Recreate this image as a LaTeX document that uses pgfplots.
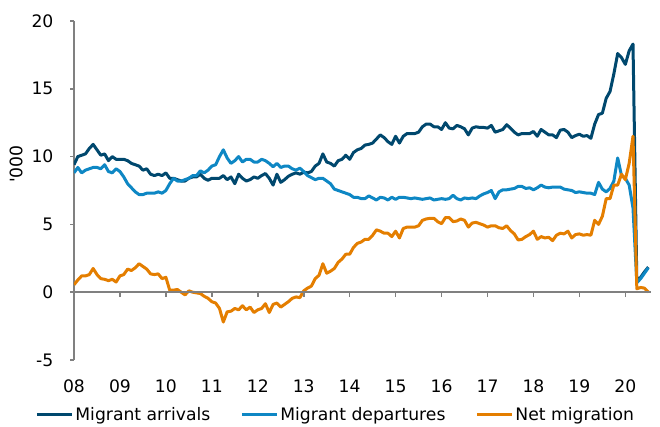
\documentclass[border=0pt]{standalone}
\usepackage{fontspec}
\setmainfont{DejaVu Sans}
\usepackage{pgfplots}
\usepackage{pgfplotstable}
\pgfplotsset{compat=1.18}

\definecolor{arrcol}{RGB}{0,72,110}
\definecolor{depcol}{RGB}{14,135,196}
\definecolor{netcol}{RGB}{228,126,0}
\definecolor{axisgray}{RGB}{128,128,128}

% monthly, m=0 is Jan 2008
\pgfplotstableread{
m arr dep net
0 9.4 8.8 0.55
1 10.0 9.2 0.9
2 10.1 8.8 1.2
3 10.2 9.0 1.2
4 10.6 9.1 1.3
5 10.9 9.2 1.75
6 10.5 9.2 1.3
7 10.1 9.1 1.0
8 10.2 9.4 0.95
9 9.7 8.9 0.85
10 10.0 8.8 0.95
11 9.8 9.1 0.75
12 9.8 8.9 1.2
13 9.8 8.5 1.3
14 9.7 8.0 1.7
15 9.5 7.7 1.6
16 9.4 7.4 1.8
17 9.3 7.2 2.1
18 9.0 7.2 1.9
19 9.1 7.3 1.7
20 8.7 7.3 1.35
21 8.6 7.3 1.3
22 8.7 7.4 1.35
23 8.6 7.3 1.0
24 8.8 7.5 1.1
25 8.4 8.0 0.15
26 8.4 8.4 0.15
27 8.3 8.2 0.2
28 8.2 8.2 0.0
29 8.2 8.3 -0.2
30 8.4 8.4 0.1
31 8.5 8.6 0.0
32 8.5 8.6 -0.05
33 8.7 8.95 -0.1
34 8.4 8.8 -0.3
35 8.25 9.0 -0.45
36 8.4 9.3 -0.7
37 8.4 9.4 -0.8
38 8.4 10.0 -1.2
39 8.6 10.5 -2.2
40 8.3 9.9 -1.45
41 8.5 9.5 -1.4
42 8.0 9.7 -1.2
43 8.7 10.0 -1.3
44 8.4 9.6 -1.0
45 8.2 9.8 -1.3
46 8.3 9.8 -1.1
47 8.5 9.6 -1.5
48 8.4 9.6 -1.3
49 8.6 9.8 -1.2
50 8.75 9.7 -0.85
51 8.4 9.5 -1.5
52 7.9 9.25 -0.9
53 8.7 9.5 -0.8
54 8.1 9.2 -1.1
55 8.3 9.3 -0.9
56 8.55 9.3 -0.7
57 8.7 9.1 -0.45
58 8.8 9.0 -0.35
59 8.7 9.15 -0.4
60 8.85 8.9 0.1
61 8.8 8.6 0.3
62 8.9 8.45 0.45
63 9.3 8.3 1.0
64 9.5 8.4 1.25
65 10.2 8.4 2.1
66 9.6 8.2 1.4
67 9.5 8.0 1.55
68 9.3 7.6 1.75
69 9.7 7.5 2.2
70 9.8 7.4 2.45
71 10.1 7.3 2.8
72 9.8 7.2 2.8
73 10.3 7.0 3.3
74 10.5 7.0 3.6
75 10.6 6.9 3.7
76 10.85 6.9 3.9
77 10.9 7.1 3.9
78 11.0 6.95 4.2
79 11.3 6.8 4.6
80 11.6 7.0 4.5
81 11.4 6.95 4.35
82 11.1 6.8 4.35
83 10.9 7.0 4.1
84 11.5 6.85 4.5
85 11.0 7.0 4.0
86 11.5 7.0 4.7
87 11.7 6.95 4.8
88 11.7 6.9 4.8
89 11.7 6.95 4.8
90 11.8 6.9 4.9
91 12.2 6.85 5.3
92 12.4 6.9 5.4
93 12.4 6.95 5.45
94 12.2 6.8 5.45
95 12.2 6.85 5.2
96 12.0 6.9 5.05
97 12.5 6.85 5.5
98 12.1 6.9 5.5
99 12.05 7.15 5.2
100 12.3 6.9 5.25
101 12.2 6.8 5.4
102 12.05 6.95 5.3
103 11.6 6.9 4.8
104 12.1 6.95 5.1
105 12.2 6.9 5.15
106 12.15 7.1 5.05
107 12.15 7.25 4.95
108 12.1 7.35 4.8
109 12.3 7.5 4.9
110 11.8 6.9 4.9
111 11.9 7.4 4.75
112 12.0 7.55 4.7
113 12.35 7.55 4.9
114 12.1 7.6 4.55
115 11.8 7.65 4.3
116 11.6 7.8 3.85
117 11.7 7.8 3.9
118 11.7 7.65 4.1
119 11.7 7.7 4.25
120 11.85 7.55 4.5
121 11.5 7.7 3.9
122 12.0 7.9 4.1
123 11.8 7.75 4.0
124 11.6 7.7 4.05
125 11.6 7.75 3.8
126 11.4 7.75 4.2
127 11.95 7.75 4.35
128 12.0 7.6 4.3
129 11.8 7.55 4.5
130 11.4 7.5 4.0
131 11.55 7.35 4.25
132 11.65 7.4 4.3
133 11.5 7.35 4.2
134 11.55 7.3 4.25
135 11.35 7.3 4.2
136 12.4 7.2 5.3
137 13.1 8.1 5.0
138 13.2 7.6 5.6
139 14.3 7.4 6.9
140 14.8 7.65 6.9
141 16.1 8.2 7.9
142 17.6 9.9 7.9
143 17.3 8.6 8.7
144 16.8 8.4 8.3
145 17.8 7.9 9.5
146 18.3 6.2 11.5
147 0.8 0.7 0.25
148 1.1 1.0 0.35
149 1.5 1.4 0.3
150 1.85 1.8 0.0
}\migdata

\begin{document}
\begin{tikzpicture}
\begin{axis}[
    at={(0pt,0pt)}, anchor=south west,
    scale only axis, width=288.5pt, height=169.5pt,
    xmin=0, xmax=150.7, ymin=-5, ymax=20,
    axis x line*=bottom, axis y line*=left,
    x axis line style={draw=none},
    y axis line style={draw=axisgray, line width=0.75pt},
    xtick={0,12,...,144},
    xticklabels={08,09,10,11,12,13,14,15,16,17,18,19,20},
    ytick={-5,0,5,10,15,20},
    yticklabels={-5,0,5,10,15,20},
    tick align=outside,
    xtick style={draw=none},
    ytick style={draw=axisgray, line width=0.75pt, /pgfplots/major tick length=1.8pt},
    tick label style={font=\fontsize{8.6}{10}\selectfont, text=black},
    xticklabel style={yshift=-2pt},
    yticklabel style={xshift=-2.5pt},
    ylabel={\textquotesingle 000},
    every axis y label/.style={at={(axis description cs:-0.1005,0.578)}, rotate=90, anchor=center, font=\fontsize{8.6}{10}\selectfont},
    legend columns=3,
    legend style={at={(0,0)}, anchor=west, xshift=-19.5pt, yshift=-27.5pt,
        draw=none, fill=none, inner sep=0pt,
        font=\fontsize{8.6}{10}\selectfont,
        nodes={inner sep=1pt},
        /tikz/every even column/.append style={column sep=14pt}},
    legend image code/.code={\draw[#1, line width=1.5pt] (0pt,0pt) -- (17.5pt,0pt);},
]
\addplot[arrcol, line width=1.5pt, line join=round] table[x=m, y=arr] {\migdata};
\addlegendentry{Migrant arrivals}
\addplot[depcol, line width=1.5pt, line join=round] table[x=m, y=dep] {\migdata};
\addlegendentry{Migrant departures}
\addplot[netcol, line width=1.5pt, line join=round] table[x=m, y=net] {\migdata};
\addlegendentry{Net migration}
% zero line and year ticks
\addplot[axisgray, line width=0.8pt] coordinates {(0,0) (150.7,0)};
\addplot[axisgray, line width=0.8pt, ycomb]
  coordinates {(12,-0.37) (24,-0.37) (36,-0.37) (48,-0.37) (60,-0.37) (72,-0.37)
               (84,-0.37) (96,-0.37) (108,-0.37) (120,-0.37) (132,-0.37) (144,-0.37)};
\coordinate (zl) at (axis cs:0,0);
\coordinate (zr) at (axis cs:150.7,0);
\end{axis}
\draw[axisgray, line width=0.8pt] (zl) -- (zr);
% frame axis on top: x axis line through zero with year ticks
\begin{axis}[
    at={(0pt,0pt)}, anchor=south west,
    scale only axis, width=288.5pt, height=169.5pt,
    xmin=0, xmax=150.7, ymin=-5, ymax=20,
    axis x line*=middle, axis y line=none,
    axis line style={draw=axisgray, line width=0.8pt},
    xtick={12,24,...,144}, xticklabels={},
    ytick=\empty,
    xtick align=outside,
    major tick length=2.5pt,
    xtick style={color=axisgray, line width=0.8pt},
]
\addplot[draw=none] coordinates {(0,0) (150.7,0)};
\end{axis}
\pgfresetboundingbox
\path (-37pt,-33.5pt) rectangle (293pt,180pt);
\end{tikzpicture}
\end{document}
